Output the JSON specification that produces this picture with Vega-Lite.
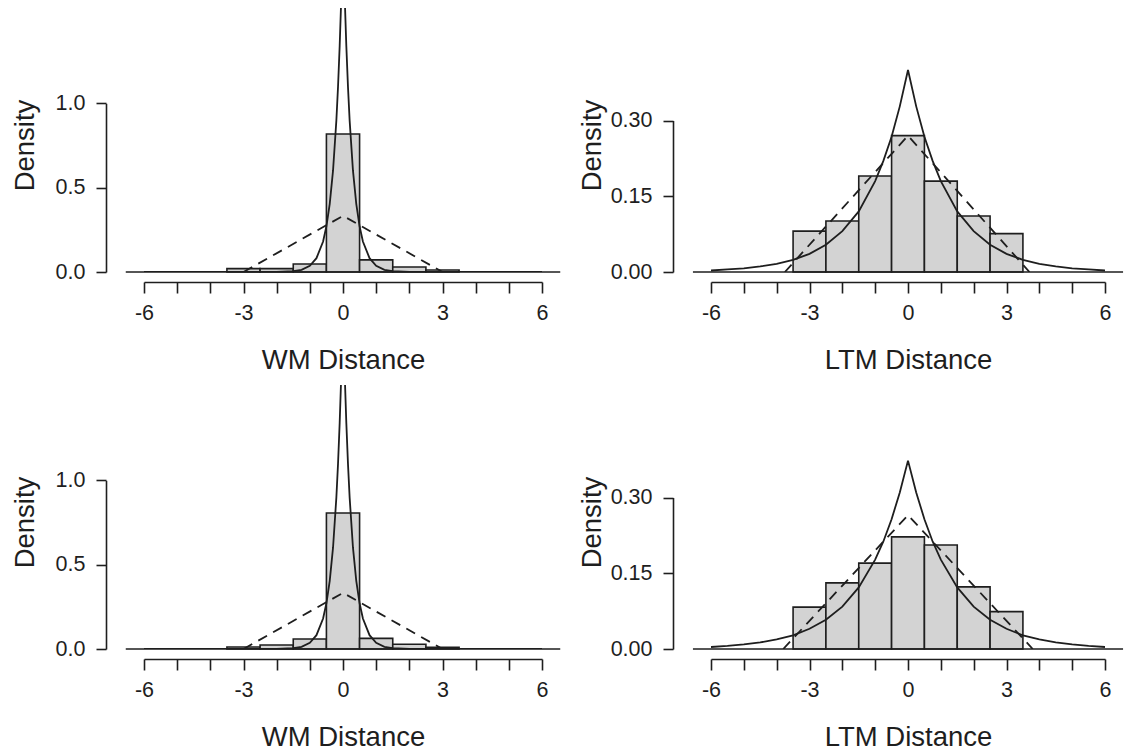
{
  "$schema": "https://vega.github.io/schema/vega-lite/v6.json",
  "background": "white",
  "padding": {"left": 11, "top": 8, "right": 5, "bottom": 3},
  "bounds": "flush",
  "columns": 2,
  "spacing": {"row": 113, "column": 169},
  "config": {
    "view": {"stroke": null},
    "font": "Liberation Sans",
    "axis": {
      "grid": false,
      "labelFont": "Liberation Sans", "labelFontSize": 21.5, "labelColor": "#1e1e1e",
      "titleFont": "Liberation Sans", "titleFontSize": 27.5, "titleFontWeight": "normal", "titleColor": "#1e1e1e",
      "domainColor": "#1e1e1e", "tickColor": "#1e1e1e", "domainWidth": 1.6, "tickWidth": 1.6,
      "labelOverlap": false, "labelFlush": false, "tickCount": 30
    }
  },
  "datasets": {
    "bars": [
      {"panel": "WM1", "bin_start": -3.5, "bin_end": -2.5, "density": 0.02},
      {"panel": "WM1", "bin_start": -2.5, "bin_end": -1.5, "density": 0.02},
      {"panel": "WM1", "bin_start": -1.5, "bin_end": -0.5, "density": 0.047},
      {"panel": "WM1", "bin_start": -0.5, "bin_end": 0.5, "density": 0.818},
      {"panel": "WM1", "bin_start": 0.5, "bin_end": 1.5, "density": 0.072},
      {"panel": "WM1", "bin_start": 1.5, "bin_end": 2.5, "density": 0.03},
      {"panel": "WM1", "bin_start": 2.5, "bin_end": 3.5, "density": 0.012},
      {"panel": "LTM1", "bin_start": -3.5, "bin_end": -2.5, "density": 0.081},
      {"panel": "LTM1", "bin_start": -2.5, "bin_end": -1.5, "density": 0.101},
      {"panel": "LTM1", "bin_start": -1.5, "bin_end": -0.5, "density": 0.19},
      {"panel": "LTM1", "bin_start": -0.5, "bin_end": 0.5, "density": 0.27},
      {"panel": "LTM1", "bin_start": 0.5, "bin_end": 1.5, "density": 0.18},
      {"panel": "LTM1", "bin_start": 1.5, "bin_end": 2.5, "density": 0.111},
      {"panel": "LTM1", "bin_start": 2.5, "bin_end": 3.5, "density": 0.076},
      {"panel": "WM2", "bin_start": -3.5, "bin_end": -2.5, "density": 0.012},
      {"panel": "WM2", "bin_start": -2.5, "bin_end": -1.5, "density": 0.024},
      {"panel": "WM2", "bin_start": -1.5, "bin_end": -0.5, "density": 0.059},
      {"panel": "WM2", "bin_start": -0.5, "bin_end": 0.5, "density": 0.806},
      {"panel": "WM2", "bin_start": 0.5, "bin_end": 1.5, "density": 0.063},
      {"panel": "WM2", "bin_start": 1.5, "bin_end": 2.5, "density": 0.028},
      {"panel": "WM2", "bin_start": 2.5, "bin_end": 3.5, "density": 0.01},
      {"panel": "LTM2", "bin_start": -3.5, "bin_end": -2.5, "density": 0.083},
      {"panel": "LTM2", "bin_start": -2.5, "bin_end": -1.5, "density": 0.131},
      {"panel": "LTM2", "bin_start": -1.5, "bin_end": -0.5, "density": 0.17},
      {"panel": "LTM2", "bin_start": -0.5, "bin_end": 0.5, "density": 0.222},
      {"panel": "LTM2", "bin_start": 0.5, "bin_end": 1.5, "density": 0.206},
      {"panel": "LTM2", "bin_start": 1.5, "bin_end": 2.5, "density": 0.123},
      {"panel": "LTM2", "bin_start": 2.5, "bin_end": 3.5, "density": 0.074}
    ],
    "curves": [
      {"panel": "WM1", "curve": "triangular", "x": -3, "y": 0},
      {"panel": "WM1", "curve": "triangular", "x": 0, "y": 0.333},
      {"panel": "WM1", "curve": "triangular", "x": 3, "y": 0},
      {"panel": "WM2", "curve": "triangular", "x": -3, "y": 0},
      {"panel": "WM2", "curve": "triangular", "x": 0, "y": 0.333},
      {"panel": "WM2", "curve": "triangular", "x": 3, "y": 0},
      {"panel": "LTM1", "curve": "triangular", "x": -3.75, "y": 0},
      {"panel": "LTM1", "curve": "triangular", "x": 0, "y": 0.27},
      {"panel": "LTM1", "curve": "triangular", "x": 3.7, "y": 0},
      {"panel": "LTM2", "curve": "triangular", "x": -3.8, "y": 0},
      {"panel": "LTM2", "curve": "triangular", "x": 0, "y": 0.265},
      {"panel": "LTM2", "curve": "triangular", "x": 3.8, "y": 0},

      {"panel": "WM1", "curve": "laplace", "x": -6, "y": 0},
      {"panel": "WM1", "curve": "laplace", "x": -3, "y": 0},
      {"panel": "WM1", "curve": "laplace", "x": -2, "y": 0.001},
      {"panel": "WM1", "curve": "laplace", "x": -1.5, "y": 0.005},
      {"panel": "WM1", "curve": "laplace", "x": -1.25, "y": 0.013},
      {"panel": "WM1", "curve": "laplace", "x": -1, "y": 0.037},
      {"panel": "WM1", "curve": "laplace", "x": -0.8, "y": 0.082},
      {"panel": "WM1", "curve": "laplace", "x": -0.6, "y": 0.181},
      {"panel": "WM1", "curve": "laplace", "x": -0.5, "y": 0.271},
      {"panel": "WM1", "curve": "laplace", "x": -0.4, "y": 0.404},
      {"panel": "WM1", "curve": "laplace", "x": -0.3, "y": 0.602},
      {"panel": "WM1", "curve": "laplace", "x": -0.2, "y": 0.899},
      {"panel": "WM1", "curve": "laplace", "x": -0.15, "y": 1.098},
      {"panel": "WM1", "curve": "laplace", "x": -0.1, "y": 1.341},
      {"panel": "WM1", "curve": "laplace", "x": -0.05, "y": 1.637},
      {"panel": "WM1", "curve": "laplace", "x": 0, "y": 2.0},
      {"panel": "WM1", "curve": "laplace", "x": 0.05, "y": 1.637},
      {"panel": "WM1", "curve": "laplace", "x": 0.1, "y": 1.341},
      {"panel": "WM1", "curve": "laplace", "x": 0.15, "y": 1.098},
      {"panel": "WM1", "curve": "laplace", "x": 0.2, "y": 0.899},
      {"panel": "WM1", "curve": "laplace", "x": 0.3, "y": 0.602},
      {"panel": "WM1", "curve": "laplace", "x": 0.4, "y": 0.404},
      {"panel": "WM1", "curve": "laplace", "x": 0.5, "y": 0.271},
      {"panel": "WM1", "curve": "laplace", "x": 0.6, "y": 0.181},
      {"panel": "WM1", "curve": "laplace", "x": 0.8, "y": 0.082},
      {"panel": "WM1", "curve": "laplace", "x": 1, "y": 0.037},
      {"panel": "WM1", "curve": "laplace", "x": 1.25, "y": 0.013},
      {"panel": "WM1", "curve": "laplace", "x": 1.5, "y": 0.005},
      {"panel": "WM1", "curve": "laplace", "x": 2, "y": 0.001},
      {"panel": "WM1", "curve": "laplace", "x": 3, "y": 0},
      {"panel": "WM1", "curve": "laplace", "x": 6, "y": 0},

      {"panel": "WM2", "curve": "laplace", "x": -6, "y": 0},
      {"panel": "WM2", "curve": "laplace", "x": -3, "y": 0},
      {"panel": "WM2", "curve": "laplace", "x": -2, "y": 0.001},
      {"panel": "WM2", "curve": "laplace", "x": -1.5, "y": 0.005},
      {"panel": "WM2", "curve": "laplace", "x": -1.25, "y": 0.013},
      {"panel": "WM2", "curve": "laplace", "x": -1, "y": 0.037},
      {"panel": "WM2", "curve": "laplace", "x": -0.8, "y": 0.082},
      {"panel": "WM2", "curve": "laplace", "x": -0.6, "y": 0.181},
      {"panel": "WM2", "curve": "laplace", "x": -0.5, "y": 0.271},
      {"panel": "WM2", "curve": "laplace", "x": -0.4, "y": 0.404},
      {"panel": "WM2", "curve": "laplace", "x": -0.3, "y": 0.602},
      {"panel": "WM2", "curve": "laplace", "x": -0.2, "y": 0.899},
      {"panel": "WM2", "curve": "laplace", "x": -0.15, "y": 1.098},
      {"panel": "WM2", "curve": "laplace", "x": -0.1, "y": 1.341},
      {"panel": "WM2", "curve": "laplace", "x": -0.05, "y": 1.637},
      {"panel": "WM2", "curve": "laplace", "x": 0, "y": 2.0},
      {"panel": "WM2", "curve": "laplace", "x": 0.05, "y": 1.637},
      {"panel": "WM2", "curve": "laplace", "x": 0.1, "y": 1.341},
      {"panel": "WM2", "curve": "laplace", "x": 0.15, "y": 1.098},
      {"panel": "WM2", "curve": "laplace", "x": 0.2, "y": 0.899},
      {"panel": "WM2", "curve": "laplace", "x": 0.3, "y": 0.602},
      {"panel": "WM2", "curve": "laplace", "x": 0.4, "y": 0.404},
      {"panel": "WM2", "curve": "laplace", "x": 0.5, "y": 0.271},
      {"panel": "WM2", "curve": "laplace", "x": 0.6, "y": 0.181},
      {"panel": "WM2", "curve": "laplace", "x": 0.8, "y": 0.082},
      {"panel": "WM2", "curve": "laplace", "x": 1, "y": 0.037},
      {"panel": "WM2", "curve": "laplace", "x": 1.25, "y": 0.013},
      {"panel": "WM2", "curve": "laplace", "x": 1.5, "y": 0.005},
      {"panel": "WM2", "curve": "laplace", "x": 2, "y": 0.001},
      {"panel": "WM2", "curve": "laplace", "x": 3, "y": 0},
      {"panel": "WM2", "curve": "laplace", "x": 6, "y": 0},

      {"panel": "LTM1", "curve": "laplace", "x": -6, "y": 0.003},
      {"panel": "LTM1", "curve": "laplace", "x": -5.5, "y": 0.005},
      {"panel": "LTM1", "curve": "laplace", "x": -5, "y": 0.007},
      {"panel": "LTM1", "curve": "laplace", "x": -4.5, "y": 0.011},
      {"panel": "LTM1", "curve": "laplace", "x": -4, "y": 0.016},
      {"panel": "LTM1", "curve": "laplace", "x": -3.5, "y": 0.024},
      {"panel": "LTM1", "curve": "laplace", "x": -3, "y": 0.036},
      {"panel": "LTM1", "curve": "laplace", "x": -2.5, "y": 0.054},
      {"panel": "LTM1", "curve": "laplace", "x": -2, "y": 0.081},
      {"panel": "LTM1", "curve": "laplace", "x": -1.5, "y": 0.12},
      {"panel": "LTM1", "curve": "laplace", "x": -1, "y": 0.18},
      {"panel": "LTM1", "curve": "laplace", "x": -0.75, "y": 0.22},
      {"panel": "LTM1", "curve": "laplace", "x": -0.5, "y": 0.268},
      {"panel": "LTM1", "curve": "laplace", "x": -0.25, "y": 0.328},
      {"panel": "LTM1", "curve": "laplace", "x": 0, "y": 0.4},
      {"panel": "LTM1", "curve": "laplace", "x": 0.25, "y": 0.328},
      {"panel": "LTM1", "curve": "laplace", "x": 0.5, "y": 0.268},
      {"panel": "LTM1", "curve": "laplace", "x": 0.75, "y": 0.22},
      {"panel": "LTM1", "curve": "laplace", "x": 1, "y": 0.18},
      {"panel": "LTM1", "curve": "laplace", "x": 1.5, "y": 0.12},
      {"panel": "LTM1", "curve": "laplace", "x": 2, "y": 0.081},
      {"panel": "LTM1", "curve": "laplace", "x": 2.5, "y": 0.054},
      {"panel": "LTM1", "curve": "laplace", "x": 3, "y": 0.036},
      {"panel": "LTM1", "curve": "laplace", "x": 3.5, "y": 0.024},
      {"panel": "LTM1", "curve": "laplace", "x": 4, "y": 0.016},
      {"panel": "LTM1", "curve": "laplace", "x": 4.5, "y": 0.011},
      {"panel": "LTM1", "curve": "laplace", "x": 5, "y": 0.007},
      {"panel": "LTM1", "curve": "laplace", "x": 5.5, "y": 0.005},
      {"panel": "LTM1", "curve": "laplace", "x": 6, "y": 0.003},

      {"panel": "LTM2", "curve": "laplace", "x": -6, "y": 0.004},
      {"panel": "LTM2", "curve": "laplace", "x": -5.5, "y": 0.006},
      {"panel": "LTM2", "curve": "laplace", "x": -5, "y": 0.009},
      {"panel": "LTM2", "curve": "laplace", "x": -4.5, "y": 0.013},
      {"panel": "LTM2", "curve": "laplace", "x": -4, "y": 0.019},
      {"panel": "LTM2", "curve": "laplace", "x": -3.5, "y": 0.027},
      {"panel": "LTM2", "curve": "laplace", "x": -3, "y": 0.04},
      {"panel": "LTM2", "curve": "laplace", "x": -2.5, "y": 0.058},
      {"panel": "LTM2", "curve": "laplace", "x": -2, "y": 0.084},
      {"panel": "LTM2", "curve": "laplace", "x": -1.5, "y": 0.122},
      {"panel": "LTM2", "curve": "laplace", "x": -1, "y": 0.177},
      {"panel": "LTM2", "curve": "laplace", "x": -0.75, "y": 0.213},
      {"panel": "LTM2", "curve": "laplace", "x": -0.5, "y": 0.257},
      {"panel": "LTM2", "curve": "laplace", "x": -0.25, "y": 0.31},
      {"panel": "LTM2", "curve": "laplace", "x": 0, "y": 0.373},
      {"panel": "LTM2", "curve": "laplace", "x": 0.25, "y": 0.31},
      {"panel": "LTM2", "curve": "laplace", "x": 0.5, "y": 0.257},
      {"panel": "LTM2", "curve": "laplace", "x": 0.75, "y": 0.213},
      {"panel": "LTM2", "curve": "laplace", "x": 1, "y": 0.177},
      {"panel": "LTM2", "curve": "laplace", "x": 1.5, "y": 0.122},
      {"panel": "LTM2", "curve": "laplace", "x": 2, "y": 0.084},
      {"panel": "LTM2", "curve": "laplace", "x": 2.5, "y": 0.058},
      {"panel": "LTM2", "curve": "laplace", "x": 3, "y": 0.04},
      {"panel": "LTM2", "curve": "laplace", "x": 3.5, "y": 0.027},
      {"panel": "LTM2", "curve": "laplace", "x": 4, "y": 0.019},
      {"panel": "LTM2", "curve": "laplace", "x": 4.5, "y": 0.013},
      {"panel": "LTM2", "curve": "laplace", "x": 5, "y": 0.009},
      {"panel": "LTM2", "curve": "laplace", "x": 5.5, "y": 0.006},
      {"panel": "LTM2", "curve": "laplace", "x": 6, "y": 0.004}
    ]
  },
  "concat": [
    {
      "width": 398, "height": 264,
      "layer": [
        {
          "data": {"name": "bars"},
          "transform": [{"filter": "datum.panel === 'WM1'"}],
          "mark": {"type": "rect", "fill": "#d3d3d3", "stroke": "#1e1e1e", "strokeWidth": 1.6},
          "encoding": {
            "x": {"field": "bin_start", "type": "quantitative", "scale": {"domain": [-6, 6], "nice": false, "zero": false},
              "axis": {"title": "WM Distance", "values": [-6, -5, -4, -3, -2, -1, 0, 1, 2, 3, 4, 5, 6], "tickCount": 30,
                "labelExpr": "datum.value % 3 === 0 ? '' + datum.value : ''",
                "offset": 10, "tickSize": 11, "labelPadding": 9.5, "titleY": 86, "titleBaseline": "alphabetic"}},
            "x2": {"field": "bin_end"},
            "y": {"field": "density", "type": "quantitative", "scale": {"domain": [0, 1.565], "nice": false},
              "axis": {"title": "Density", "values": [0, 0.5, 1], "tickCount": 30, "format": ".1f", "offset": 38, "tickSize": 10, "labelPadding": 11,
                "domainDash": [168.7, 1000], "titleX": -73, "titleY": 137, "titleBaseline": "alphabetic"}},
            "y2": {"datum": 0}
          }
        },
        {
          "data": {"values": [{}]},
          "mark": {"type": "rule", "stroke": "#1e1e1e", "strokeWidth": 1.6},
          "encoding": {"x": {"datum": -6.55}, "x2": {"datum": 6.55}, "y": {"datum": 0}}
        },
        {
          "data": {"name": "curves"},
          "transform": [{"filter": "datum.panel === 'WM1' && datum.curve === 'triangular'"}],
          "mark": {"type": "line", "stroke": "#1e1e1e", "strokeWidth": 1.8, "strokeDash": [10, 7], "clip": true},
          "encoding": {"x": {"field": "x", "type": "quantitative"}, "y": {"field": "y", "type": "quantitative"}}
        },
        {
          "data": {"name": "curves"},
          "transform": [{"filter": "datum.panel === 'WM1' && datum.curve === 'laplace'"}],
          "mark": {"type": "line", "stroke": "#1e1e1e", "strokeWidth": 1.8, "clip": true},
          "encoding": {"x": {"field": "x", "type": "quantitative"}, "y": {"field": "y", "type": "quantitative"}}
        }
      ]
    },
    {
      "width": 394, "height": 264,
      "layer": [
        {
          "data": {"name": "bars"},
          "transform": [{"filter": "datum.panel === 'LTM1'"}],
          "mark": {"type": "rect", "fill": "#d3d3d3", "stroke": "#1e1e1e", "strokeWidth": 1.6},
          "encoding": {
            "x": {"field": "bin_start", "type": "quantitative", "scale": {"domain": [-6, 6], "nice": false, "zero": false},
              "axis": {"title": "LTM Distance", "values": [-6, -5, -4, -3, -2, -1, 0, 1, 2, 3, 4, 5, 6], "tickCount": 30,
                "labelExpr": "datum.value % 3 === 0 ? '' + datum.value : ''",
                "offset": 10, "tickSize": 11, "labelPadding": 9.5, "titleY": 86, "titleBaseline": "alphabetic"}},
            "x2": {"field": "bin_end"},
            "y": {"field": "density", "type": "quantitative", "scale": {"domain": [0, 0.5228], "nice": false},
              "axis": {"title": "Density", "values": [0, 0.15, 0.3], "tickCount": 30, "format": ".2f", "offset": 38, "tickSize": 10, "labelPadding": 11,
                "domainDash": [151.5, 1000], "titleX": -73, "titleY": 137, "titleBaseline": "alphabetic"}},
            "y2": {"datum": 0}
          }
        },
        {
          "data": {"values": [{}]},
          "mark": {"type": "rule", "stroke": "#1e1e1e", "strokeWidth": 1.6},
          "encoding": {"x": {"datum": -6.55}, "x2": {"datum": 6.55}, "y": {"datum": 0}}
        },
        {
          "data": {"name": "curves"},
          "transform": [{"filter": "datum.panel === 'LTM1' && datum.curve === 'triangular'"}],
          "mark": {"type": "line", "stroke": "#1e1e1e", "strokeWidth": 1.8, "strokeDash": [10, 7], "clip": true},
          "encoding": {"x": {"field": "x", "type": "quantitative"}, "y": {"field": "y", "type": "quantitative"}}
        },
        {
          "data": {"name": "curves"},
          "transform": [{"filter": "datum.panel === 'LTM1' && datum.curve === 'laplace'"}],
          "mark": {"type": "line", "stroke": "#1e1e1e", "strokeWidth": 1.8, "clip": true},
          "encoding": {"x": {"field": "x", "type": "quantitative"}, "y": {"field": "y", "type": "quantitative"}}
        }
      ]
    },
    {
      "width": 398, "height": 264,
      "layer": [
        {
          "data": {"name": "bars"},
          "transform": [{"filter": "datum.panel === 'WM2'"}],
          "mark": {"type": "rect", "fill": "#d3d3d3", "stroke": "#1e1e1e", "strokeWidth": 1.6},
          "encoding": {
            "x": {"field": "bin_start", "type": "quantitative", "scale": {"domain": [-6, 6], "nice": false, "zero": false},
              "axis": {"title": "WM Distance", "values": [-6, -5, -4, -3, -2, -1, 0, 1, 2, 3, 4, 5, 6], "tickCount": 30,
                "labelExpr": "datum.value % 3 === 0 ? '' + datum.value : ''",
                "offset": 10, "tickSize": 11, "labelPadding": 9.5, "titleY": 86, "titleBaseline": "alphabetic"}},
            "x2": {"field": "bin_end"},
            "y": {"field": "density", "type": "quantitative", "scale": {"domain": [0, 1.565], "nice": false},
              "axis": {"title": "Density", "values": [0, 0.5, 1], "tickCount": 30, "format": ".1f", "offset": 38, "tickSize": 10, "labelPadding": 11,
                "domainDash": [168.7, 1000], "titleX": -73, "titleY": 137, "titleBaseline": "alphabetic"}},
            "y2": {"datum": 0}
          }
        },
        {
          "data": {"values": [{}]},
          "mark": {"type": "rule", "stroke": "#1e1e1e", "strokeWidth": 1.6},
          "encoding": {"x": {"datum": -6.55}, "x2": {"datum": 6.55}, "y": {"datum": 0}}
        },
        {
          "data": {"name": "curves"},
          "transform": [{"filter": "datum.panel === 'WM2' && datum.curve === 'triangular'"}],
          "mark": {"type": "line", "stroke": "#1e1e1e", "strokeWidth": 1.8, "strokeDash": [10, 7], "clip": true},
          "encoding": {"x": {"field": "x", "type": "quantitative"}, "y": {"field": "y", "type": "quantitative"}}
        },
        {
          "data": {"name": "curves"},
          "transform": [{"filter": "datum.panel === 'WM2' && datum.curve === 'laplace'"}],
          "mark": {"type": "line", "stroke": "#1e1e1e", "strokeWidth": 1.8, "clip": true},
          "encoding": {"x": {"field": "x", "type": "quantitative"}, "y": {"field": "y", "type": "quantitative"}}
        }
      ]
    },
    {
      "width": 394, "height": 264,
      "layer": [
        {
          "data": {"name": "bars"},
          "transform": [{"filter": "datum.panel === 'LTM2'"}],
          "mark": {"type": "rect", "fill": "#d3d3d3", "stroke": "#1e1e1e", "strokeWidth": 1.6},
          "encoding": {
            "x": {"field": "bin_start", "type": "quantitative", "scale": {"domain": [-6, 6], "nice": false, "zero": false},
              "axis": {"title": "LTM Distance", "values": [-6, -5, -4, -3, -2, -1, 0, 1, 2, 3, 4, 5, 6], "tickCount": 30,
                "labelExpr": "datum.value % 3 === 0 ? '' + datum.value : ''",
                "offset": 10, "tickSize": 11, "labelPadding": 9.5, "titleY": 86, "titleBaseline": "alphabetic"}},
            "x2": {"field": "bin_end"},
            "y": {"field": "density", "type": "quantitative", "scale": {"domain": [0, 0.5228], "nice": false},
              "axis": {"title": "Density", "values": [0, 0.15, 0.3], "tickCount": 30, "format": ".2f", "offset": 38, "tickSize": 10, "labelPadding": 11,
                "domainDash": [151.5, 1000], "titleX": -73, "titleY": 137, "titleBaseline": "alphabetic"}},
            "y2": {"datum": 0}
          }
        },
        {
          "data": {"values": [{}]},
          "mark": {"type": "rule", "stroke": "#1e1e1e", "strokeWidth": 1.6},
          "encoding": {"x": {"datum": -6.55}, "x2": {"datum": 6.55}, "y": {"datum": 0}}
        },
        {
          "data": {"name": "curves"},
          "transform": [{"filter": "datum.panel === 'LTM2' && datum.curve === 'triangular'"}],
          "mark": {"type": "line", "stroke": "#1e1e1e", "strokeWidth": 1.8, "strokeDash": [10, 7], "clip": true},
          "encoding": {"x": {"field": "x", "type": "quantitative"}, "y": {"field": "y", "type": "quantitative"}}
        },
        {
          "data": {"name": "curves"},
          "transform": [{"filter": "datum.panel === 'LTM2' && datum.curve === 'laplace'"}],
          "mark": {"type": "line", "stroke": "#1e1e1e", "strokeWidth": 1.8, "clip": true},
          "encoding": {"x": {"field": "x", "type": "quantitative"}, "y": {"field": "y", "type": "quantitative"}}
        }
      ]
    }
  ]
}
